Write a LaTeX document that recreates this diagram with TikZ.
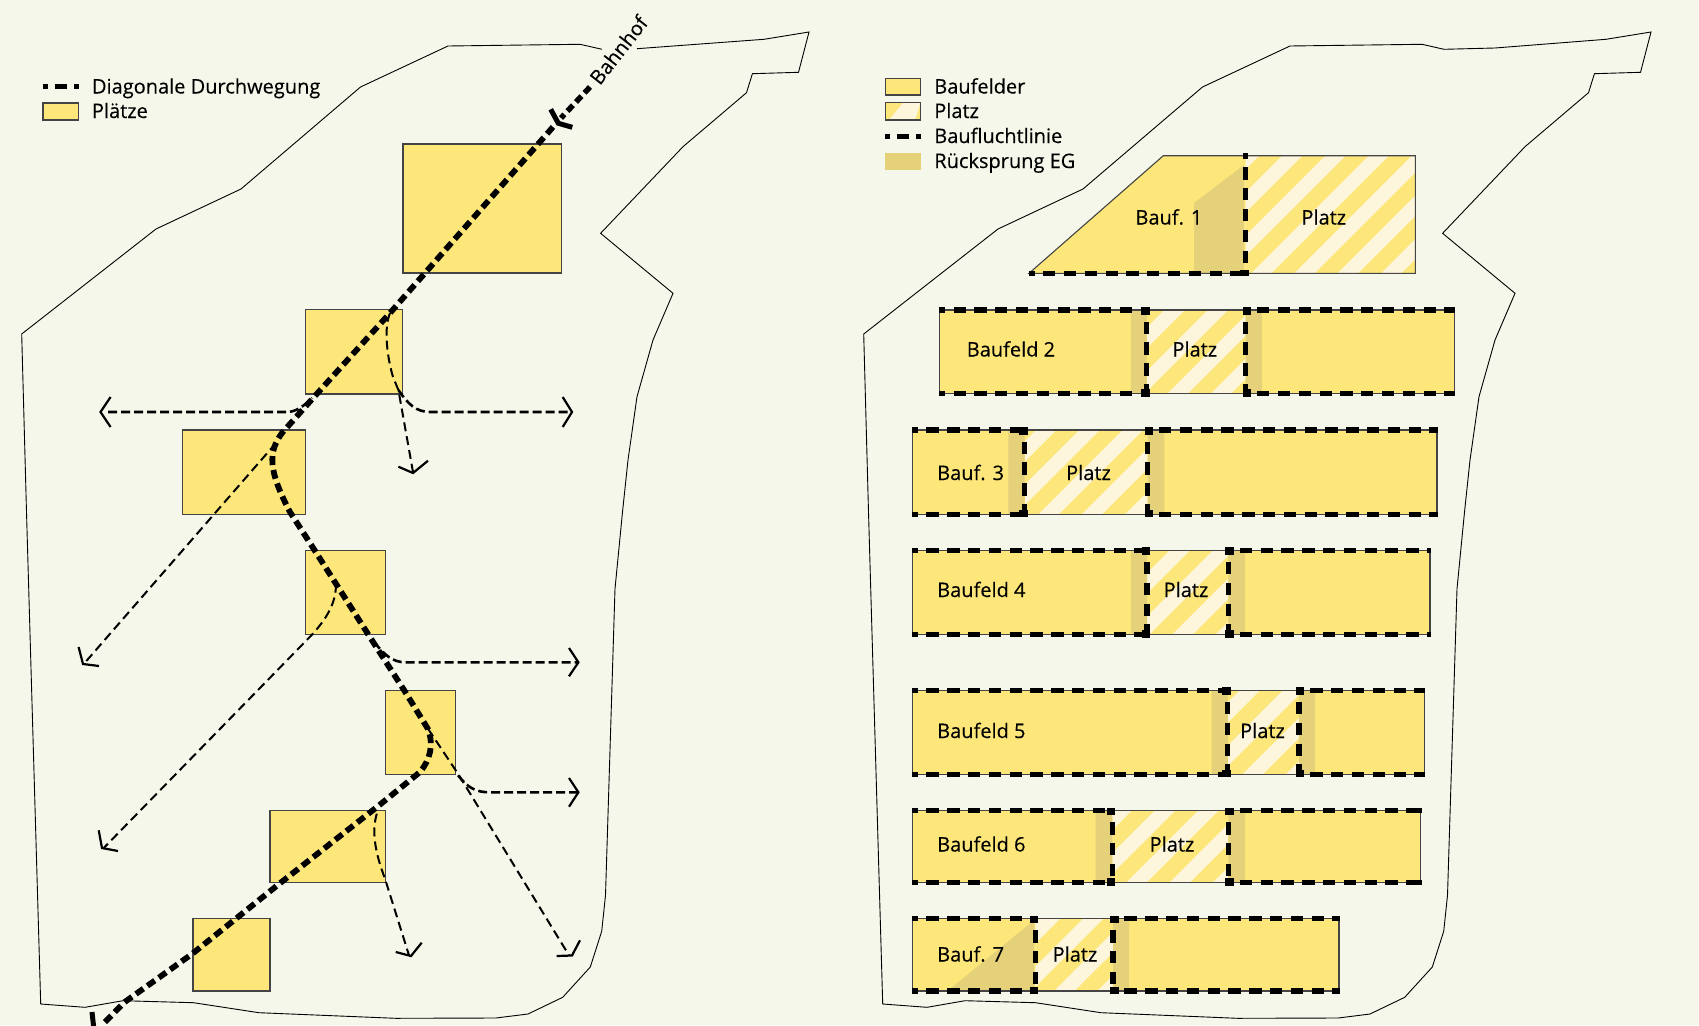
\documentclass[tikz,border=0pt]{standalone}
\usepackage{fontspec}
\setmainfont{Open Sans}[FakeBold=0.25]
\definecolor{bgc}{HTML}{F5F7EA}
\definecolor{ylw}{HTML}{FDE77B}
\definecolor{crm}{HTML}{FDF6DC}
\definecolor{rck}{HTML}{E4D17A}
\definecolor{edge}{HTML}{444444}
\tikzset{
 site/.style={draw=black,line width=0.9pt,line join=miter},
 yellowbox/.style={fill=ylw,draw=edge,line width=1.1pt},
 thickdash/.style={line width=5.8pt,draw=black,dash pattern=on 9pt off 5pt},
 finedash/.style={line width=5.5pt,draw=black,dash pattern=on 8pt off 4.5pt},
 boundary/.style={line width=5.2pt,draw=black,dash pattern=on 12.3pt off 8.5pt,dash phase=6.7pt},
 pathdash/.style={line width=2pt,draw=black,dash pattern=on 9pt off 5pt},
 sidedash/.style={line width=2.6pt,draw=black,dash pattern=on 9pt off 4pt},
 headline/.style={line width=2.2pt,draw=black,line join=miter},
 bighead/.style={line width=5pt,draw=black,line join=miter},
 lbl/.style={inner sep=0pt,outer sep=0pt,anchor=base west,font=\fontsize{20}{24}\selectfont,text=black},
 clbl/.style={inner sep=0pt,outer sep=0pt,anchor=base,font=\fontsize{20}{24}\selectfont,text=black},
 junction/.style={fill=black}
}
% x0 x1 ytop ybot v1 v2 stripe-phase
\newcommand{\platzfield}[7]{%
 \fill[ylw] (#1,#3) rectangle (#2,#4);
 \begin{scope}
 \clip (#5,#3) rectangle (#6,#4);
 \fill[crm] (#5,#3) rectangle (#6,#4);
 \foreach \c in {0,...,70}{\fill[ylw] ({#7+\c*43.3},0) -- ({#7+\c*43.3+22.5},0) -- ({#7+\c*43.3+22.5-1025},1025) -- ({#7+\c*43.3-1025},1025) -- cycle;}
 \end{scope}
}
\newcommand{\fieldlines}[6]{%
 \draw[edge,line width=1.1pt] (#1,#3) rectangle (#2,#4);
 \draw[boundary] (#1,#3) -- ({#5+2.7},#3);
 \draw[boundary] (#1,#4) -- ({#5+2.7},#4);
 \draw[boundary] ({#6-2.7},#3) -- (#2,#3);
 \draw[boundary] ({#6-2.7},#4) -- (#2,#4);
 \draw[boundary] (#5,{#3-2.5}) -- (#5,{#4+2.5});
 \draw[boundary] (#6,{#3-2.5}) -- (#6,{#4+2.5});
 \fill[junction] ({#5-5.5},{#3-3}) rectangle ({#5+3},{#3+4.5});
 \fill[junction] ({#5-5.5},{#4-4.5}) rectangle ({#5+3},{#4+3});
 \fill[junction] ({#6-3},{#3-3}) rectangle ({#6+5.5},{#3+4.5});
 \fill[junction] ({#6-3},{#4-4.5}) rectangle ({#6+5.5},{#4+3});
 \fill[junction] ({#2-3.5},{#3-2.6}) rectangle ({#2+0.7},{#3+2.6});
 \fill[junction] ({#2-3.5},{#4-2.6}) rectangle ({#2+0.7},{#4+2.6});
}
\begin{document}
\begin{tikzpicture}[x=1pt,y=-1pt]
\useasboundingbox (0,0) rectangle (1699,1025);
\clip (0,0) rectangle (1699,1025);
\fill[bgc] (0,0) rectangle (1699,1025);
% ---------- left site outline (gap for the label)
\draw[site] (602,49.3) -- (580,44.3) -- (448,46) -- (360.5,87) -- (241,189) -- (156,229) -- (21.7,334) -- (26.5,512) -- (40.7,1004) -- (85,1007.3) -- (123,1000.7) -- (193.5,1002.7) -- (259,1012.7) -- (395.7,1018.3) -- (496,1018) -- (528,1014) -- (562.7,997.3) -- (590.3,967) -- (601.7,931.3) -- (605.5,895.3) -- (615,588.7) -- (622.5,512) -- (628,460) -- (637,396.7) -- (653,340) -- (673,293.3) -- (600.6,233.3) -- (683,146.7) -- (746.5,92.7) -- (752.4,73.7) -- (798.5,72.3) -- (809,32) -- (764,39.3) -- (637,48.7);
% ---------- squares
\draw[yellowbox] (403,144) rectangle (561.6,273);
\draw[yellowbox] (305.2,309.3) rectangle (402.8,394);
\draw[yellowbox] (182.7,430) rectangle (305.2,514.3);
\draw[yellowbox] (305.2,550.3) rectangle (385.4,634.7);
\draw[yellowbox] (385.4,690.3) rectangle (455.4,774.3);
\draw[yellowbox] (270,810.7) rectangle (385.4,882.7);
\draw[yellowbox] (193,918.7) rectangle (270,991);
% ---------- thin routes
\draw[sidedash] (108,412) -- (287,412) .. controls (295,412) and (303,407) .. (312,398);
\draw[pathdash] (390,313) .. controls (383,330) and (388,360) .. (393,377) -- (398.4,390) -- (413,472);
\draw[sidedash] (398.4,390) .. controls (408,404) and (416,412) .. (430,412) -- (572,412);
\draw[pathdash] (276,443) -- (84,663.7);
\draw[pathdash] (336,583.7) .. controls (336,600) and (330,615) .. (311.7,635) -- (103,848.7);
\draw[sidedash] (374,642) .. controls (385,655) and (392,662.3) .. (406,662.3) -- (578.4,662.3);
\draw[pathdash] (428,728.7) -- (458,773.7) -- (569,955.3);
\draw[sidedash] (458,775.3) .. controls (468,788) and (476,792.3) .. (490,792.3) -- (578.4,792.3);
\draw[pathdash] (376.8,813.7) .. controls (372,830) and (374,850) .. (385,878.7) -- (409,955.3);
% ---------- arrow heads
\draw[headline] (110.6,397) -- (100.5,412) -- (110.6,427);
\draw[headline] (562.7,397) -- (572,412) -- (562.7,427);
\draw[headline] (398.4,466.7) -- (413,473) -- (428,460.7);
\draw[headline] (78.6,647) -- (83,664) -- (99,666);
\draw[headline] (98.7,830.3) -- (102,848) -- (118,851);
\draw[headline] (569,648) -- (578.4,662.3) -- (569,676.3);
\draw[headline] (569,778) -- (578.4,792.3) -- (569,806.7);
\draw[headline] (395.7,952) -- (411,956) -- (421.7,942.7);
\draw[headline] (580,940.3) -- (572,955.5) -- (556.7,956);
% ---------- main diagonal
\draw[finedash] (590,87) -- (561,118);
\draw[bighead] (550.7,109.3) -- (558.3,123.3) -- (572.3,127.3);
\draw[thickdash] (553,127) -- (390,313) -- (314,397) -- (282,433) .. controls (268,452) and (268,470) .. (290,512) -- (317,554) -- (368.6,635) -- (404,690) -- (428,729) .. controls (434,745) and (430,760) .. (420,772) -- (379.5,805) -- (279,884) -- (192.4,953.7) -- (124.7,1002) -- (103,1024);
\draw[bighead] (92,1012) -- (94,1030);
\node[clbl,anchor=center,rotate=52] (bahnhof) at (618.5,50) {Bahnhof};
% ---------- left legend
\draw[line width=5pt,dash pattern=on 5pt off 7pt on 12pt off 7pt on 5pt off 100pt] (43,86.7) -- (78.6,86.7);
\node[lbl] (l1) at (92,93.5) {Diagonale Durchwegung};
\draw[yellowbox] (43,103) rectangle (78.6,120);
\node[lbl] (l2) at (92,118) {Plätze};
% ---------- right site outline
\begin{scope}[xshift=842pt]
\draw[site] (21.7,334) -- (26.5,512) -- (40.7,1004) -- (85,1007.3) -- (123,1000.7) -- (193.5,1002.7) -- (259,1012.7) -- (395.7,1018.3) -- (496,1018) -- (528,1014) -- (562.7,997.3) -- (590.3,967) -- (601.7,931.3) -- (605.5,895.3) -- (615,588.7) -- (622.5,512) -- (628,460) -- (637,396.7) -- (653,340) -- (673,293.3) -- (600.6,233.3) -- (683,146.7) -- (746.5,92.7) -- (752.4,73.7) -- (798.5,72.3) -- (809,32) -- (764,39.3) -- (653,48) -- (602,49.3) -- (580,44.3) -- (448,46) -- (360.5,87) -- (241,189) -- (156,229) -- cycle;
\end{scope}
% ---------- Baufeld 1
\fill[ylw] (1029,273.3) -- (1163.3,155.7) -- (1245.7,155.7) -- (1245.7,273.3) -- cycle;
\begin{scope}
\clip (1245.7,155.7) rectangle (1415.4,273.3);
\fill[crm] (1245.7,155.7) rectangle (1415.4,273.3);
\foreach \c in {0,...,70}{\fill[ylw] ({29.4+\c*43.3},0) -- ({29.4+\c*43.3+22.5},0) -- ({29.4+\c*43.3+22.5-1025},1025) -- ({29.4+\c*43.3-1025},1025) -- cycle;}
\end{scope}
\fill[rck] (1194,203) -- (1244,165) -- (1244,273.3) -- (1194,273.3) -- cycle;
\draw[edge,line width=1.1pt] (1029,273.3) -- (1163.3,155.7) -- (1415.4,155.7) -- (1415.4,273.3) -- cycle;
\draw[boundary] (1029,273.3) -- (1248.4,273.3);
\draw[boundary] (1245.7,153.2) -- (1245.7,275.8);
\fill[junction] (1240.2,269.5) rectangle (1248.7,276.3);
\node[lbl] (b1) at (1135.5,224.5) {Bauf. 1};
\node[clbl] (p1) at (1323.8,224.5) {Platz};
% ---------- Baufelder 2-7
\platzfield{939.4}{1454.4}{310}{393.7}{1146.5}{1245.7}{22.8}
\fill[rck] (1130.8,310) rectangle (1146.5,393.7) (1245.7,310) rectangle (1262,393.7);
\fieldlines{939.4}{1454.4}{310}{393.7}{1146.5}{1245.7}
\node[lbl] (b2) at (966.8,356.5) {Baufeld 2};
\node[clbl] (p2) at (1194.8,356.5) {Platz};

\platzfield{912.3}{1437}{430}{514.3}{1024.6}{1147.6}{14.5}
\fill[rck] (1008.3,430) rectangle (1024.6,514.3) (1147.6,430) rectangle (1164.4,514.3);
\fieldlines{912.3}{1437}{430}{514.3}{1024.6}{1147.6}
\node[lbl] (b3) at (937.2,480) {Bauf. 3};
\node[clbl] (p3) at (1088.5,480) {Platz};

\platzfield{912.3}{1430}{550.3}{634.7}{1147}{1228.4}{8.7}
\fill[rck] (1130.8,550.3) rectangle (1147,634.7) (1228.4,550.3) rectangle (1245,634.7);
\fieldlines{912.3}{1430}{550.3}{634.7}{1147}{1228.4}
\node[lbl] (b4) at (937.2,597) {Baufeld 4};
\node[clbl] (p4) at (1186,597) {Platz};

\platzfield{912.3}{1424.6}{690.3}{774.3}{1227.8}{1298.9}{2.2}
\fill[rck] (1211.6,690.3) rectangle (1227.8,774.3) (1298.9,690.3) rectangle (1315,774.3);
\fieldlines{912.3}{1424.6}{690.3}{774.3}{1227.8}{1298.9}
\node[lbl] (b5) at (937.2,738) {Baufeld 5};
\node[clbl] (p5) at (1262.5,738) {Platz};

\platzfield{912.3}{1420.8}{810.7}{882.7}{1112.4}{1228.4}{37.5}
\fill[rck] (1095.6,810.7) rectangle (1112.4,882.7) (1228.4,810.7) rectangle (1245,882.7);
\fieldlines{912.3}{1420.8}{810.7}{882.7}{1112.4}{1228.4}
\node[lbl] (b6) at (937.2,851.5) {Baufeld 6};
\node[clbl] (p6) at (1172,851.5) {Platz};

\platzfield{912.3}{1339}{918.7}{991}{1035.4}{1113}{30.5}
\fill[rck] (947.6,991) -- (1034.3,920) -- (1034.3,991) -- cycle (1113,918.7) rectangle (1129.2,991);
\fieldlines{912.3}{1339}{918.7}{991}{1035.4}{1113}
\node[lbl] (b7) at (937.2,961.5) {Bauf. 7};
\node[clbl] (p7) at (1075,961.5) {Platz};
% ---------- right legend
\draw[yellowbox] (885.2,78.3) rectangle (920.5,95);
\node[lbl] (r1) at (934.3,93.5) {Baufelder};
\begin{scope}
\clip (885.2,102.7) rectangle (920.5,120);
\fill[ylw] (885.2,102.7) rectangle (920.5,120);
\fill[crm] (903,102.7) -- (920.5,102.7) -- (915,120) -- (889,120) -- cycle;
\end{scope}
\draw[edge,line width=1.1pt] (885.2,102.7) rectangle (920.5,120);
\node[lbl] (r2) at (934.3,118) {Platz};
\draw[line width=5pt,dash pattern=on 5pt off 7pt on 12pt off 7pt on 5pt off 100pt] (885.2,136.7) -- (920.5,136.7);
\node[lbl] (r3) at (934.3,143) {Baufluchtlinie};
\fill[rck] (885.2,153.3) rectangle (920.5,170);
\node[lbl] (r4) at (934.3,168) {Rücksprung EG};
\end{tikzpicture}
\end{document}
